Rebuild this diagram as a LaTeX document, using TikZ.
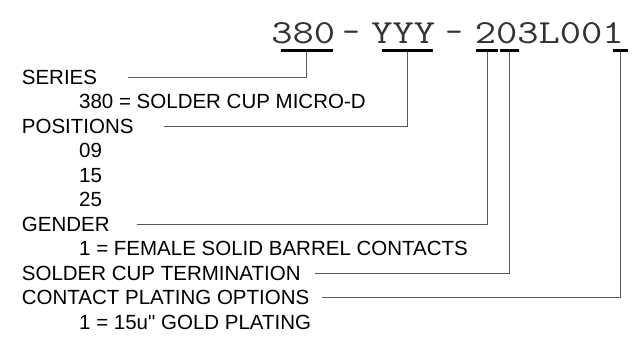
\documentclass[tikz,border=0pt]{standalone}
\usepackage{fontspec}
\setmainfont{Liberation Sans}[Ligatures=TeXOff]
\usetikzlibrary{positioning}

\tikzset{
  heading/.style={anchor=west, inner sep=0pt, font=\fontsize{20.5}{24}\selectfont,
                  text height=14.7pt, text depth=0pt},
  partno/.style={anchor=base west, inner sep=0pt, xscale=1.226,
                 font=\ttfamily\fontsize{33.7}{38}\selectfont, text=black!80},
  codebar/.style={fill=black, inner sep=0pt, minimum height=3pt},
  lead/.style={draw=black!65, line width=0.9pt}
}

\begin{document}
\begin{tikzpicture}[x=1pt,y=-1pt]
\useasboundingbox (0,0) rectangle (644,344);
% part number
\node[partno] (p380) at (271,43.3) {380};
\node[partno, anchor=base, xscale=0.816] (dash1) at (351,42.5) {-};
\node[partno] (pyyy) at (371,43.3) {YYY};
\node[partno, anchor=base, xscale=0.816] (dash2) at (454,42.5) {-};
\node[partno] (ptail) at (474.5,43.3) {203L001};

% bars under the code fields
\foreach \name/\x/\w in {b380/306.7/52, byyy/407.5/51.6, bgen/487/22,
                         bcup/509.7/19.3, bplt/620.5/15}
  \node[codebar, minimum width=\w pt] (\name) at (\x,50.8) {};

% legend
\foreach \name/\x/\k/\txt in {
  series/21.7/0/SERIES,
  ser380/79/1/380 = SOLDER CUP MICRO-D,
  positions/21.7/2/POSITIONS,
  pos09/79/3/09,
  pos15/79/4/15,
  pos25/79/5/25,
  gender/21.7/6/GENDER,
  gen1/79/7/1 = FEMALE SOLID BARREL CONTACTS,
  cup/21.7/8/SOLDER CUP TERMINATION,
  plating/21.7/9/CONTACT PLATING OPTIONS,
  plt1/79/10/1 = 15u" GOLD PLATING
}{
  \node[heading] (\name) at (\x,77+24.5*\k) {\txt};
}

% leaders
\foreach \bar/\lbl/\gap in {b380/series/31, byyy/positions/30, bgen/gender/27,
                            bcup/cup/14, bplt/plating/12}
  \draw[lead] (\bar.south) |- ([xshift=\gap pt]\lbl.east);
\end{tikzpicture}
\end{document}
